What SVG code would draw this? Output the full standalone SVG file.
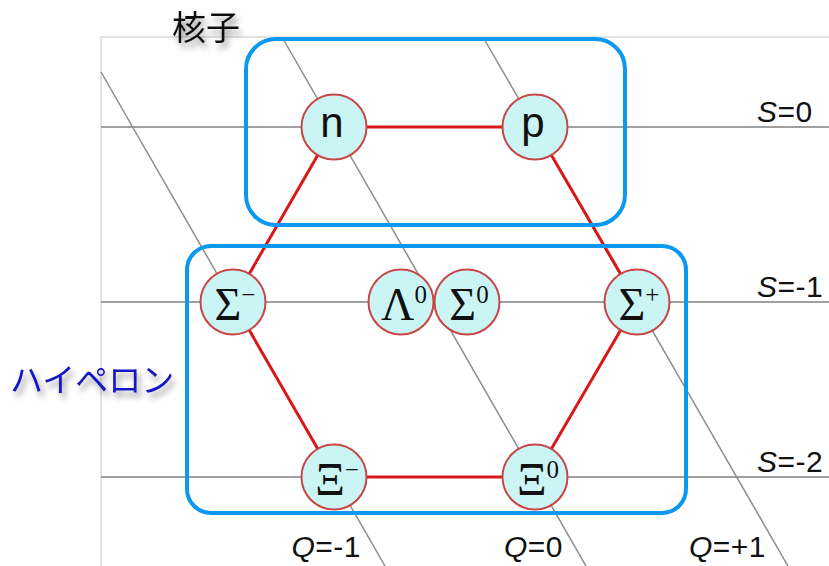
<svg xmlns="http://www.w3.org/2000/svg" width="829" height="566" viewBox="0 0 829 566">
  <defs>
    <filter id="shadow" x="-20%" y="-40%" width="150%" height="200%">
      <feDropShadow dx="3" dy="5" stdDeviation="3" flood-color="#000" flood-opacity="0.45"/>
    </filter>
  </defs>
  <style>
    .frame { stroke: #c8c8c8; stroke-width: 1; fill: none; }
    .sline { stroke: #a0a0a0; stroke-width: 2; fill: none; }
    .qline { stroke: #8c8c8c; stroke-width: 1.5; fill: none; }
    .edge { stroke: #d81818; stroke-width: 3; fill: none; }
    .group { stroke: #0d98f0; stroke-width: 4; fill: none; }
    .node circle { fill: #cbf5f5; stroke: #c84646; stroke-width: 2; }
    .sans { font-family: "Liberation Sans", Arial, sans-serif; fill: #111; }
    .serif { font-family: "Liberation Serif", "Times New Roman", serif; fill: #111; }
    .axis { font-family: "Liberation Sans", Arial, sans-serif; font-size: 30px; letter-spacing: 0.5px; fill: #111; }
    .jp { font-family: "Noto Sans CJK JP", sans-serif; }
  </style>

  <!-- plot frame -->
  <path class="frame" d="M101 566 V37 H829"/>

  <!-- strangeness (horizontal) and charge (diagonal) lines -->
  <g id="grid">
    <line class="sline" x1="101" y1="127" x2="829" y2="127"/>
    <line class="sline" x1="101" y1="302" x2="829" y2="302"/>
    <line class="sline" x1="101" y1="477" x2="829" y2="477"/>
    <line class="qline" x1="101" y1="72" x2="385" y2="566"/>
    <line class="qline" x1="282" y1="37" x2="586" y2="566"/>
    <line class="qline" x1="483" y1="37" x2="788" y2="566"/>
  </g>

  <!-- axis labels -->
  <g id="labels" class="axis">
    <text x="757" y="122"><tspan font-style="italic">S</tspan>=0</text>
    <text x="757" y="297"><tspan font-style="italic">S</tspan>=-1</text>
    <text x="757" y="472"><tspan font-style="italic">S</tspan>=-2</text>
    <text x="361" y="557" text-anchor="end"><tspan font-style="italic">Q</tspan>=-1</text>
    <text x="563" y="557" text-anchor="end"><tspan font-style="italic">Q</tspan>=0</text>
    <text x="766" y="557" text-anchor="end"><tspan font-style="italic">Q</tspan>=+1</text>
  </g>

  <!-- octet hexagon -->
  <g id="connectors">
    <line class="edge" x1="334" y1="127" x2="535" y2="127"/>
    <line class="edge" x1="334" y1="127" x2="233" y2="302"/>
    <line class="edge" x1="535" y1="127" x2="637" y2="302"/>
    <line class="edge" x1="233" y1="302" x2="334" y2="477"/>
    <line class="edge" x1="637" y1="302" x2="535" y2="477"/>
    <line class="edge" x1="334" y1="477" x2="535" y2="477"/>
  </g>

  <!-- particles -->
  <g id="n" class="node">
    <circle cx="334" cy="127" r="32.5"/>
    <text class="sans" x="332" y="137" font-size="42" text-anchor="middle">n</text>
  </g>
  <g id="p" class="node">
    <circle cx="535" cy="127" r="32.5"/>
    <text class="sans" x="533" y="137" font-size="42" text-anchor="middle">p</text>
  </g>
  <g id="sigma-minus" class="node">
    <circle cx="233" cy="302" r="32.5"/>
    <text class="serif" x="235" y="320" font-size="46" text-anchor="middle">Σ<tspan font-size="25" dy="-17">−</tspan></text>
  </g>
  <g id="lambda0" class="node">
    <circle cx="401" cy="302" r="32.5"/>
    <text class="serif" x="404" y="320" font-size="46" text-anchor="middle">Λ<tspan font-size="25" dy="-17">0</tspan></text>
  </g>
  <g id="sigma0" class="node">
    <circle cx="467" cy="302" r="32.5"/>
    <text class="serif" x="469" y="320" font-size="46" text-anchor="middle">Σ<tspan font-size="25" dy="-17">0</tspan></text>
  </g>
  <g id="sigma-plus" class="node">
    <circle cx="637" cy="302" r="32.5"/>
    <text class="serif" x="639" y="320" font-size="46" text-anchor="middle">Σ<tspan font-size="25" dy="-17">+</tspan></text>
  </g>
  <g id="xi-minus" class="node">
    <circle cx="334" cy="477" r="32.5"/>
    <text class="serif" x="337" y="495" font-size="46" text-anchor="middle">Ξ<tspan font-size="25" dy="-17">−</tspan></text>
  </g>
  <g id="xi0" class="node">
    <circle cx="535" cy="477" r="32.5"/>
    <text class="serif" x="538" y="495" font-size="46" text-anchor="middle">Ξ<tspan font-size="25" dy="-17">0</tspan></text>
  </g>

  <!-- groupings -->
  <g id="nucleons">
    <rect class="group" x="246" y="39" width="379" height="186" rx="30" ry="30"/>
    <text class="jp" x="172" y="40" font-size="34" fill="#111" filter="url(#shadow)">核子</text>
  </g>
  <g id="hyperons">
    <rect class="group" x="187" y="246" width="499" height="267" rx="24" ry="24"/>
    <text class="jp" x="10" y="392" font-size="33" fill="#1414c4" filter="url(#shadow)">ハイペロン</text>
  </g>
</svg>
